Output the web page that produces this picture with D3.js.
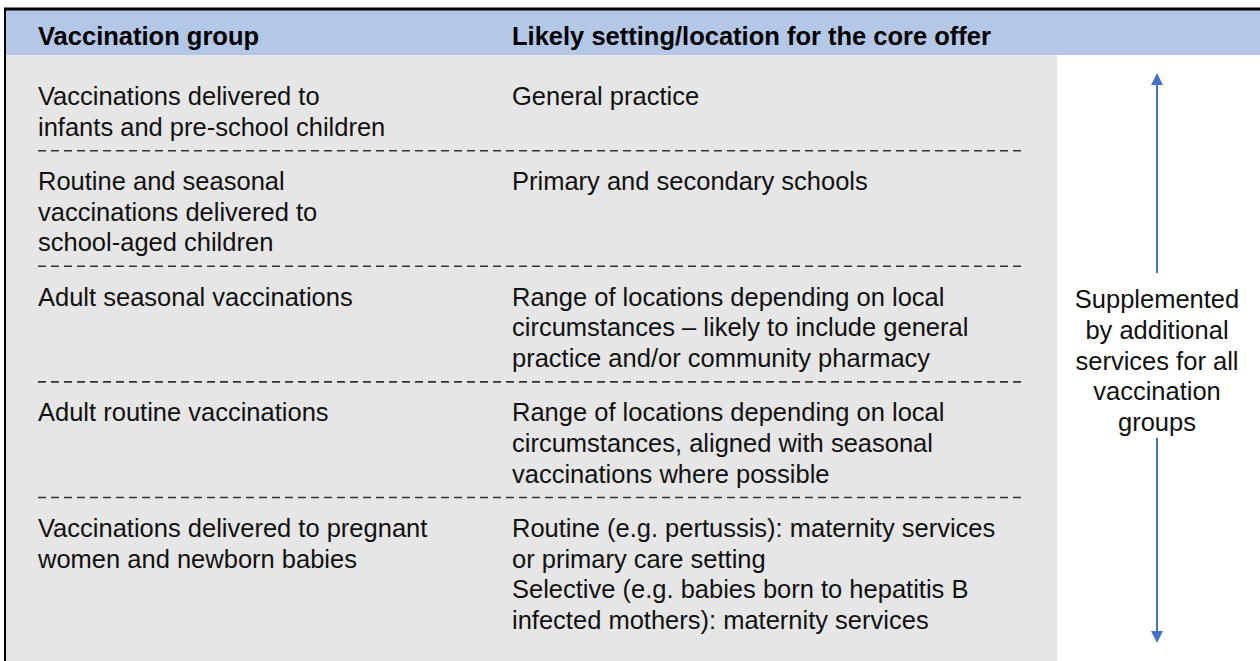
<!DOCTYPE html>
<html>
<head>
<meta charset="utf-8">
<script src="https://cdn.jsdelivr.net/npm/d3@7"></script>
<style>
  html, body { margin: 0; padding: 0; background: #fff; }
  svg { display: block; font-family: "Liberation Sans", Arial, sans-serif; }
</style>
</head>
<body>
<div id="chart"></div>
<script>
// Tabelni podaci
var headers = ["Vaccination group", "Likely setting/location for the core offer"];

var groups = [
    ["Vaccinations delivered to", "infants and pre-school children"],
    ["Routine and seasonal", "vaccinations delivered to", "school-aged children"],
    ["Adult seasonal vaccinations"],
    ["Adult routine vaccinations"],
    ["Vaccinations delivered to pregnant", "women and newborn babies"]
];

var settings = [
    ["General practice"],
    ["Primary and secondary schools"],
    ["Range of locations depending on local", "circumstances \u2013 likely to include general", "practice and/or community pharmacy"],
    ["Range of locations depending on local", "circumstances, aligned with seasonal", "vaccinations where possible"],
    ["Routine (e.g. pertussis): maternity services", "or primary care setting", "Selective (e.g. babies born to hepatitis B", "infected mothers): maternity services"]
];

var noteLines = ["Supplemented", "by additional", "services for all", "vaccination", "groups"];

function drawTable() {
    var width = 1260, height = 661;
    var fontSize = 25.5;
    var lineH = 30.7, rowGap = 23.5;
    var blue = "#4472C4";

    var svg = d3.select("#chart")
        .append("svg")
        .attr("width", width)
        .attr("height", height);

    // kolone
    var x = d3.scaleOrdinal().domain(["group", "setting"]).range([38, 512]);
    var bodyRight = 1057;
    var noteX = 1157;

    // redovi - broj linija po redu
    var rowLines = groups.map(function (g, i) { return Math.max(g.length, settings[i].length); });
    var startLine = [];
    rowLines.reduce(function (acc, n, i) { startLine[i] = acc; return acc + n; }, 0);

    var lineY = d3.scaleLinear().domain([0, 1]).range([96, 96 + lineH]);
    function textY(row, k) { return lineY(startLine[row] + k) + row * rowGap; }

    // pozadina
    svg.append("rect")
        .attr("x", 5).attr("y", 9)
        .attr("width", width).attr("height", 46)
        .attr("fill", "#B4C7E7");

    svg.append("rect")
        .attr("x", 5).attr("y", 55)
        .attr("width", bodyRight - 5).attr("height", height - 55)
        .attr("fill", "#E6E6E6");

    // okvir
    svg.append("line")
        .attr("x1", 4).attr("x2", width)
        .attr("y1", 9).attr("y2", 9)
        .attr("stroke", "#000").attr("stroke-width", 3);
    svg.append("line")
        .attr("x1", 5).attr("x2", 5)
        .attr("y1", 8).attr("y2", height)
        .attr("stroke", "#000").attr("stroke-width", 2);

    // zaglavlje
    svg.selectAll(".header")
        .data(headers)
        .enter()
        .append("text")
        .attr("class", "header")
        .attr("x", function (d, i) { return x(i === 0 ? "group" : "setting"); })
        .attr("y", 45)
        .style("font-size", fontSize + "px")
        .style("font-weight", "bold")
        .attr("fill", "#000")
        .text(function (d) { return d; });

    // isprekidane linije izmedu redova
    svg.selectAll(".divider")
        .data(rowLines.slice(0, -1))
        .enter()
        .append("line")
        .attr("class", "divider")
        .attr("x1", 38).attr("x2", 1022)
        .attr("y1", function (n, i) { return textY(i, n - 1) + 24; })
        .attr("y2", function (n, i) { return textY(i, n - 1) + 24; })
        .attr("stroke", "#333")
        .attr("stroke-width", 1.6)
        .attr("stroke-dasharray", "8,5");

    // tekst redova
    function drawColumn(data, key) {
        var rows = svg.selectAll(".col-" + key)
            .data(data)
            .enter()
            .append("g")
            .attr("class", "col-" + key);

        rows.selectAll("text")
            .data(function (lines, row) { return lines.map(function (t, k) { return { t: t, row: row, k: k }; }); })
            .enter()
            .append("text")
            .attr("x", x(key))
            .attr("y", function (d) { return textY(d.row, d.k); })
            .attr("dy", "0.36em")
            .style("font-size", fontSize + "px")
            .attr("fill", "#111")
            .text(function (d) { return d.t; });
    }
    drawColumn(groups, "group");
    drawColumn(settings, "setting");

    // desna napomena
    var noteY = d3.scaleLinear().domain([0, 1]).range([299, 299 + lineH]);
    svg.selectAll(".note")
        .data(noteLines)
        .enter()
        .append("text")
        .attr("class", "note")
        .attr("x", noteX)
        .attr("y", function (d, i) { return noteY(i); })
        .attr("dy", "0.36em")
        .attr("text-anchor", "middle")
        .style("font-size", fontSize + "px")
        .attr("fill", "#111")
        .text(function (d) { return d; });

    // strelice
    var topTip = 73, bottomTip = 643, head = 12;
    var gapTop = noteY(0) - 26, gapBottom = noteY(noteLines.length - 1) + 16;

    svg.append("line")
        .attr("x1", noteX).attr("x2", noteX)
        .attr("y1", topTip + head - 1).attr("y2", gapTop)
        .attr("stroke", blue).attr("stroke-width", 2);
    svg.append("line")
        .attr("x1", noteX).attr("x2", noteX)
        .attr("y1", gapBottom).attr("y2", bottomTip - head + 1)
        .attr("stroke", blue).attr("stroke-width", 2);

    svg.append("path")
        .attr("d", d3.line()([[noteX, topTip], [noteX - head / 2, topTip + head], [noteX + head / 2, topTip + head]]) + "Z")
        .attr("fill", blue);
    svg.append("path")
        .attr("d", d3.line()([[noteX, bottomTip], [noteX - head / 2, bottomTip - head], [noteX + head / 2, bottomTip - head]]) + "Z")
        .attr("fill", blue);
}

document.addEventListener("DOMContentLoaded", drawTable);
</script>
</body>
</html>
